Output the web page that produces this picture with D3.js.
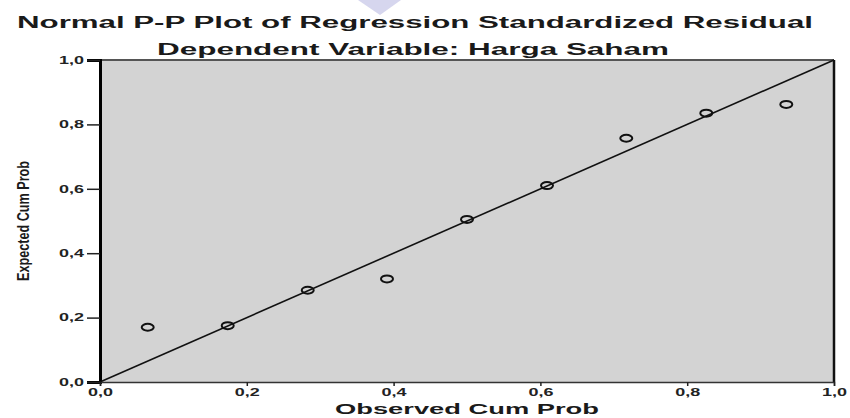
<!DOCTYPE html>
<html><head><meta charset="utf-8">
<script src="https://cdn.jsdelivr.net/npm/d3@7"></script>
<style>body{margin:0;background:#fff}svg{display:block}</style>
</head><body>
<svg id="c" width="850" height="418"></svg>
<script>
const titleLines = ["Normal P-P Plot of Regression Standardized Residual", "Dependent Variable: Harga Saham"];
const xLabel = "Observed Cum Prob";
const yLabel = "Expected Cum Prob";
const observed = [0.065, 0.174, 0.283, 0.391, 0.5, 0.609, 0.717, 0.826, 0.935];
const expected = [0.17, 0.175, 0.285, 0.32, 0.505, 0.61, 0.757, 0.835, 0.862];
const tickValues = [0, 0.2, 0.4, 0.6, 0.8, 1.0];
const tickLabels = ["0,0", "0,2", "0,4", "0,6", "0,8", "1,0"];

const svg = d3.select("#c");
const L = 100, R = 834, T = 60, B = 382;
const x = d3.scaleLinear().domain([0, 1]).range([L, R]);
const y = d3.scaleLinear().domain([0, 1]).range([B, T]);
const font = "'Liberation Sans', Arial, sans-serif";

// watermark
svg.append("polygon").attr("points", "358,0 401,0 380,15").attr("fill", "#d6d6ee");

// titles
svg.append("text").attr("x", 415).attr("y", 28).attr("text-anchor", "middle")
  .attr("font-family", font).attr("font-weight", "bold").attr("font-size", 16)
  .attr("fill", "#1a1a1a").attr("textLength", 796).attr("lengthAdjust", "spacingAndGlyphs")
  .text(titleLines[0]);
svg.append("text").attr("x", 413).attr("y", 55).attr("text-anchor", "middle")
  .attr("font-family", font).attr("font-weight", "bold").attr("font-size", 16)
  .attr("fill", "#1a1a1a").attr("textLength", 512).attr("lengthAdjust", "spacingAndGlyphs")
  .text(titleLines[1]);

// plot background
svg.append("rect").attr("x", L).attr("y", T).attr("width", R - L).attr("height", B - T)
  .attr("fill", "#d3d3d3");

// frame
svg.append("line").attr("x1", L).attr("x2", R).attr("y1", T).attr("y2", T).attr("stroke", "#555").attr("stroke-width", 2);
svg.append("line").attr("x1", R).attr("x2", R).attr("y1", T).attr("y2", B).attr("stroke", "#111").attr("stroke-width", 2.5);

// axes
const yAxis = d3.axisLeft(y).tickValues(tickValues).tickFormat((d, i) => tickLabels[i]).tickSize(13).tickPadding(3);
const gy = svg.append("g").attr("transform", `translate(${L},0)`).call(yAxis);
gy.select(".domain").attr("stroke", "#000").attr("stroke-width", 3);
gy.selectAll(".tick line").attr("stroke", "#222").attr("stroke-width", 1.5);
gy.selectAll(".tick text").attr("font-family", font).attr("font-weight", "bold").attr("font-size", 10.5)
  .attr("fill", "#222").attr("textLength", 25).attr("lengthAdjust", "spacingAndGlyphs");

const xAxis = d3.axisBottom(x).tickValues(tickValues).tickFormat((d, i) => tickLabels[i]).tickSize(4).tickPadding(3);
const gx = svg.append("g").attr("transform", `translate(0,${B})`).call(xAxis);
gx.select(".domain").attr("stroke", "#333").attr("stroke-width", 1.5);
gx.selectAll(".tick line").attr("stroke", "#222").attr("stroke-width", 1.5);
gx.selectAll(".tick text").attr("font-family", font).attr("font-weight", "bold").attr("font-size", 10.5)
  .attr("fill", "#222").attr("textLength", 25).attr("lengthAdjust", "spacingAndGlyphs");

// axis titles
svg.append("text").attr("x", (L + R) / 2).attr("y", 414).attr("text-anchor", "middle")
  .attr("font-family", font).attr("font-weight", "bold").attr("font-size", 15)
  .attr("fill", "#1a1a1a").attr("textLength", 264).attr("lengthAdjust", "spacingAndGlyphs")
  .text(xLabel);
svg.append("text").attr("transform", `translate(29,${(T + B) / 2}) rotate(-90)`).attr("text-anchor", "middle")
  .attr("font-family", "'Liberation Sans Narrow', 'Liberation Sans', sans-serif").attr("font-weight", "bold").attr("font-size", 17)
  .attr("fill", "#1a1a1a").attr("textLength", 120).attr("lengthAdjust", "spacingAndGlyphs")
  .text(yLabel);

// reference line
svg.append("line").attr("x1", x(0)).attr("y1", y(0)).attr("x2", x(1)).attr("y2", y(1))
  .attr("stroke", "#111").attr("stroke-width", 1.6);

// points
svg.append("g").selectAll("ellipse").data(observed).join("ellipse")
  .attr("cx", d => x(d)).attr("cy", (d, i) => y(expected[i]))
  .attr("rx", 6).attr("ry", 3.5).attr("fill", "none").attr("stroke", "#111").attr("stroke-width", 2);
</script>
</body></html>
